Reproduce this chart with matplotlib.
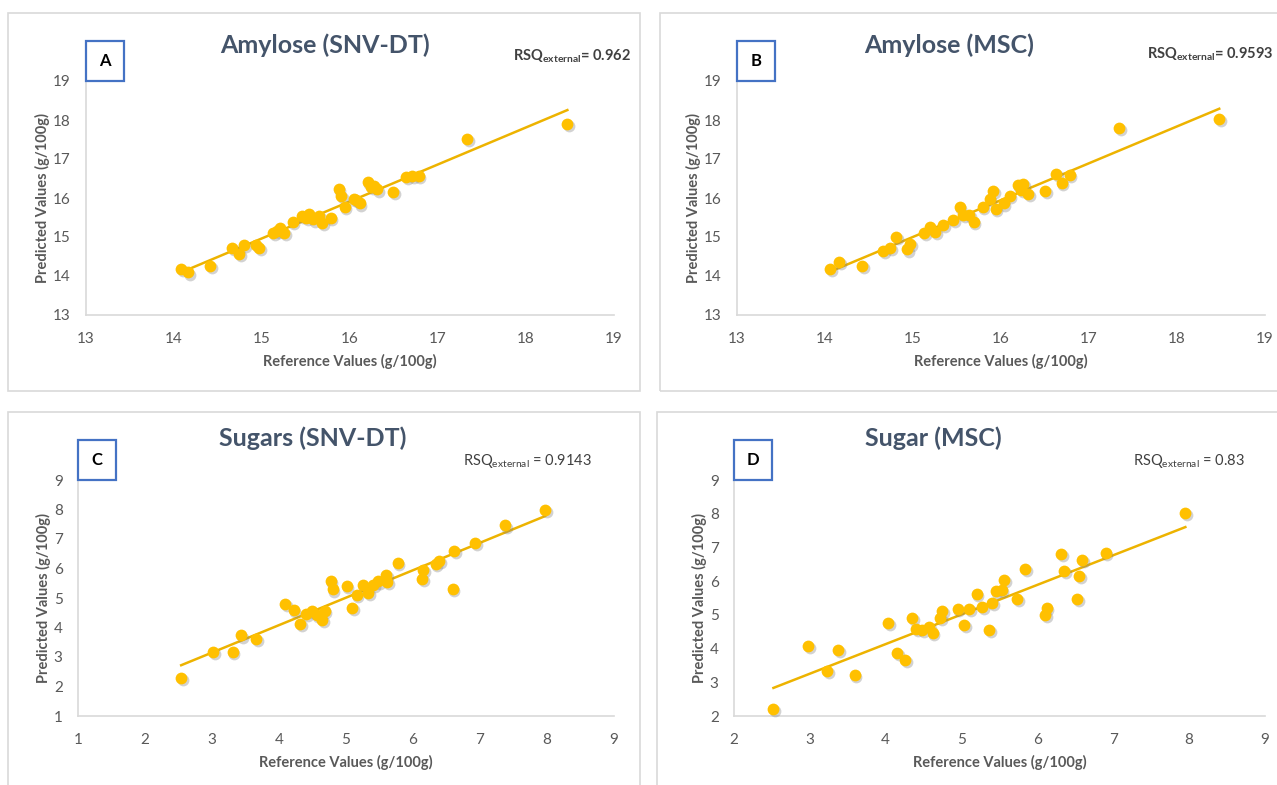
import numpy as np
import matplotlib
matplotlib.use('Agg')
import matplotlib.pyplot as plt
from matplotlib.patches import Rectangle
from matplotlib import transforms

plt.rcParams['font.family'] = ['Lato', 'DejaVu Sans']
plt.rcParams['mathtext.fontset'] = 'custom'
plt.rcParams['mathtext.rm'] = 'Lato'

# Amylose, reference vs predicted (SNV-DT)
amy_ref_snv = [14.08, 14.16, 14.41, 14.66, 14.74, 14.80, 14.93, 14.97, 15.13, 15.17, 15.20, 15.25,
               15.35, 15.45, 15.50, 15.53, 15.58, 15.65, 15.68, 15.78, 15.87, 15.90, 15.94, 16.04,
               16.07, 16.11, 16.20, 16.24, 16.27, 16.31, 16.49, 16.64, 16.71, 16.78, 17.33, 18.47]
amy_pred_snv = [14.18, 14.09, 14.26, 14.71, 14.56, 14.79, 14.79, 14.71, 15.11, 15.15, 15.22, 15.11,
                15.38, 15.54, 15.50, 15.59, 15.45, 15.54, 15.35, 15.49, 16.23, 16.05, 15.78, 15.97,
                15.95, 15.86, 16.42, 16.29, 16.30, 16.22, 16.16, 16.53, 16.56, 16.56, 17.51, 17.90]

# Amylose (MSC)
amy_ref_msc = [14.06, 14.16, 14.42, 14.66, 14.74, 14.81, 14.93, 14.97, 15.13, 15.19, 15.25, 15.34,
               15.46, 15.53, 15.57, 15.64, 15.69, 15.79, 15.87, 15.91, 15.94, 16.03, 16.10, 16.19,
               16.23, 16.25, 16.31, 16.50, 16.63, 16.69, 16.78, 17.34, 18.48]
amy_pred_msc = [14.18, 14.37, 14.26, 14.64, 14.71, 15.01, 14.68, 14.82, 15.11, 15.26, 15.14, 15.31,
                15.44, 15.78, 15.56, 15.56, 15.39, 15.78, 15.97, 16.18, 15.73, 15.86, 16.05, 16.33,
                16.20, 16.35, 16.10, 16.18, 16.61, 16.38, 16.59, 17.79, 18.02]

# Sugars (SNV-DT)
sug_ref_snv = [2.54, 3.02, 3.31, 3.44, 3.66, 4.09, 4.22, 4.32, 4.41, 4.49, 4.56, 4.64, 4.68, 4.77,
               4.80, 5.01, 5.09, 5.16, 5.25, 5.33, 5.41, 5.48, 5.60, 5.61, 5.77, 6.14, 6.15, 6.34,
               6.39, 6.59, 6.61, 6.93, 7.38, 7.97]
sug_pred_snv = [2.29, 3.17, 3.17, 3.73, 3.62, 4.81, 4.58, 4.13, 4.47, 4.55, 4.43, 4.27, 4.55, 5.58,
                5.29, 5.40, 4.67, 5.09, 5.45, 5.18, 5.45, 5.56, 5.79, 5.54, 6.19, 5.63, 5.94, 6.16,
                6.25, 5.32, 6.59, 6.86, 7.46, 8.00]

# Sugar (MSC)
sug_ref_msc = [2.52, 2.98, 3.23, 3.37, 3.59, 4.03, 4.15, 4.26, 4.35, 4.40, 4.48, 4.57, 4.62, 4.72,
               4.74, 4.95, 5.03, 5.10, 5.20, 5.27, 5.36, 5.40, 5.45, 5.53, 5.56, 5.73, 5.84, 6.10,
               6.12, 6.31, 6.35, 6.52, 6.55, 6.59, 6.90, 7.95]
sug_pred_msc = [2.21, 4.08, 3.33, 3.97, 3.21, 4.76, 3.87, 3.67, 4.91, 4.57, 4.56, 4.64, 4.47, 4.91,
                5.11, 5.18, 4.71, 5.18, 5.63, 5.23, 4.54, 5.35, 5.70, 5.73, 6.03, 5.48, 6.35, 4.99,
                5.21, 6.80, 6.29, 5.48, 6.15, 6.62, 6.84, 8.02]

W, H = 1277, 785
fig = plt.figure(figsize=(W / 100, H / 100), dpi=100)

GOLD = '#FFC000'
LINE = '#EDB300'
TITLE_C = '#44546A'
TXT = '#595959'
GRID = '#D9D9D9'


def fx(x):
    return x / W


def fy(y):
    return 1 - y / H


def panel(box, ax_px, ref, pred, lims, title, title_x, title_y, letter, rsq, rsq_x, rsq_y, rsq_bold):
    # outer chart border
    bx0, by0, bx1, by1 = box
    fig.patches.append(Rectangle((fx(bx0), fy(by1)), fx(bx1 - bx0), (by1 - by0) / H,
                                 transform=fig.transFigure, fill=False, ec=GRID, lw=1.2))
    l, t, r, b = ax_px
    ax = fig.add_axes([fx(l), fy(b), fx(r - l), (b - t) / H])
    lo, hi = lims
    ax.set_xlim(lo, hi)
    ax.set_ylim(lo, hi)
    ax.set_xticks(range(lo, hi + 1))
    ax.set_yticks(range(lo, hi + 1))
    for s in ['top', 'right']:
        ax.spines[s].set_visible(False)
    for s in ['left', 'bottom']:
        ax.spines[s].set_color(GRID)
        ax.spines[s].set_linewidth(1.2)
    ax.tick_params(length=0, labelsize=11, labelcolor=TXT)
    ax.tick_params(axis='x', pad=12)
    ax.tick_params(axis='y', pad=11)

    # trendline (least squares, like Excel)
    k, c = np.polyfit(ref, pred, 1)
    xs = np.array([min(ref), max(ref)])
    ax.plot(xs, k * xs + c, color=LINE, lw=1.8, zorder=2)

    # soft marker shadow
    sh = transforms.offset_copy(ax.transData, fig=fig, x=1.2, y=-1.5, units='points')
    ax.scatter(ref, pred, s=72, color='#808080', alpha=0.35, lw=0, transform=sh, zorder=3,
               clip_on=False)
    ax.scatter(ref, pred, s=72, color=GOLD, lw=0, zorder=4, clip_on=False)

    ax.set_xlabel('Reference Values (g/100g)', fontsize=10.5, fontweight='bold', color=TXT,
                  labelpad=6)
    ax.set_ylabel('Predicted Values (g/100g)', fontsize=10.5, fontweight='bold', color=TXT,
                  labelpad=2)

    fig.text(fx(title_x), fy(title_y), title, fontsize=18, fontweight='bold', color=TITLE_C,
             ha='center', va='center')
    fig.text(fx(rsq_x), fy(rsq_y), rsq, fontsize=10.5,
             fontweight='bold' if rsq_bold else 'normal', color='#404040', ha='left', va='center')

    # letter box
    lb_w, lb_h = 38, 40
    fig.patches.append(Rectangle((fx(l), fy(t)), fx(lb_w), lb_h / H, transform=fig.transFigure,
                                 fc='white', ec='#4472C4', lw=1.6, zorder=5))
    fig.text(fx(l + lb_w / 2), fy(t - lb_h / 2), letter, fontsize=12, fontweight='bold',
             color='black', ha='center', va='center', zorder=6)
    return ax


panel((8, 13, 640, 391), (86, 81, 614, 315), amy_ref_snv, amy_pred_snv, (13, 19),
      'Amylose (SNV-DT)', 325, 45, 'A', r'RSQ$_{\mathregular{external}}$= 0.962', 513, 56, True)
panel((660, 13, 1290, 391), (737, 81, 1265, 315), amy_ref_msc, amy_pred_msc, (13, 19),
      'Amylose (MSC)', 949, 45, 'B', r'RSQ$_{\mathregular{external}}$= 0.9593', 1147, 54, True)
panel((8, 412, 640, 800), (78, 480, 614, 716), sug_ref_snv, sug_pred_snv, (1, 9),
      'Sugars (SNV-DT)', 313, 438, 'C', r'RSQ$_{\mathregular{external}}$ = 0.9143', 463, 461, False)
panel((657, 412, 1290, 800), (734, 480, 1265, 716), sug_ref_msc, sug_pred_msc, (2, 9),
      'Sugar (MSC)', 933, 438, 'D', r'RSQ$_{\mathregular{external}}$ = 0.83', 1133, 461, False)

plt.savefig('out.png', dpi=100)
